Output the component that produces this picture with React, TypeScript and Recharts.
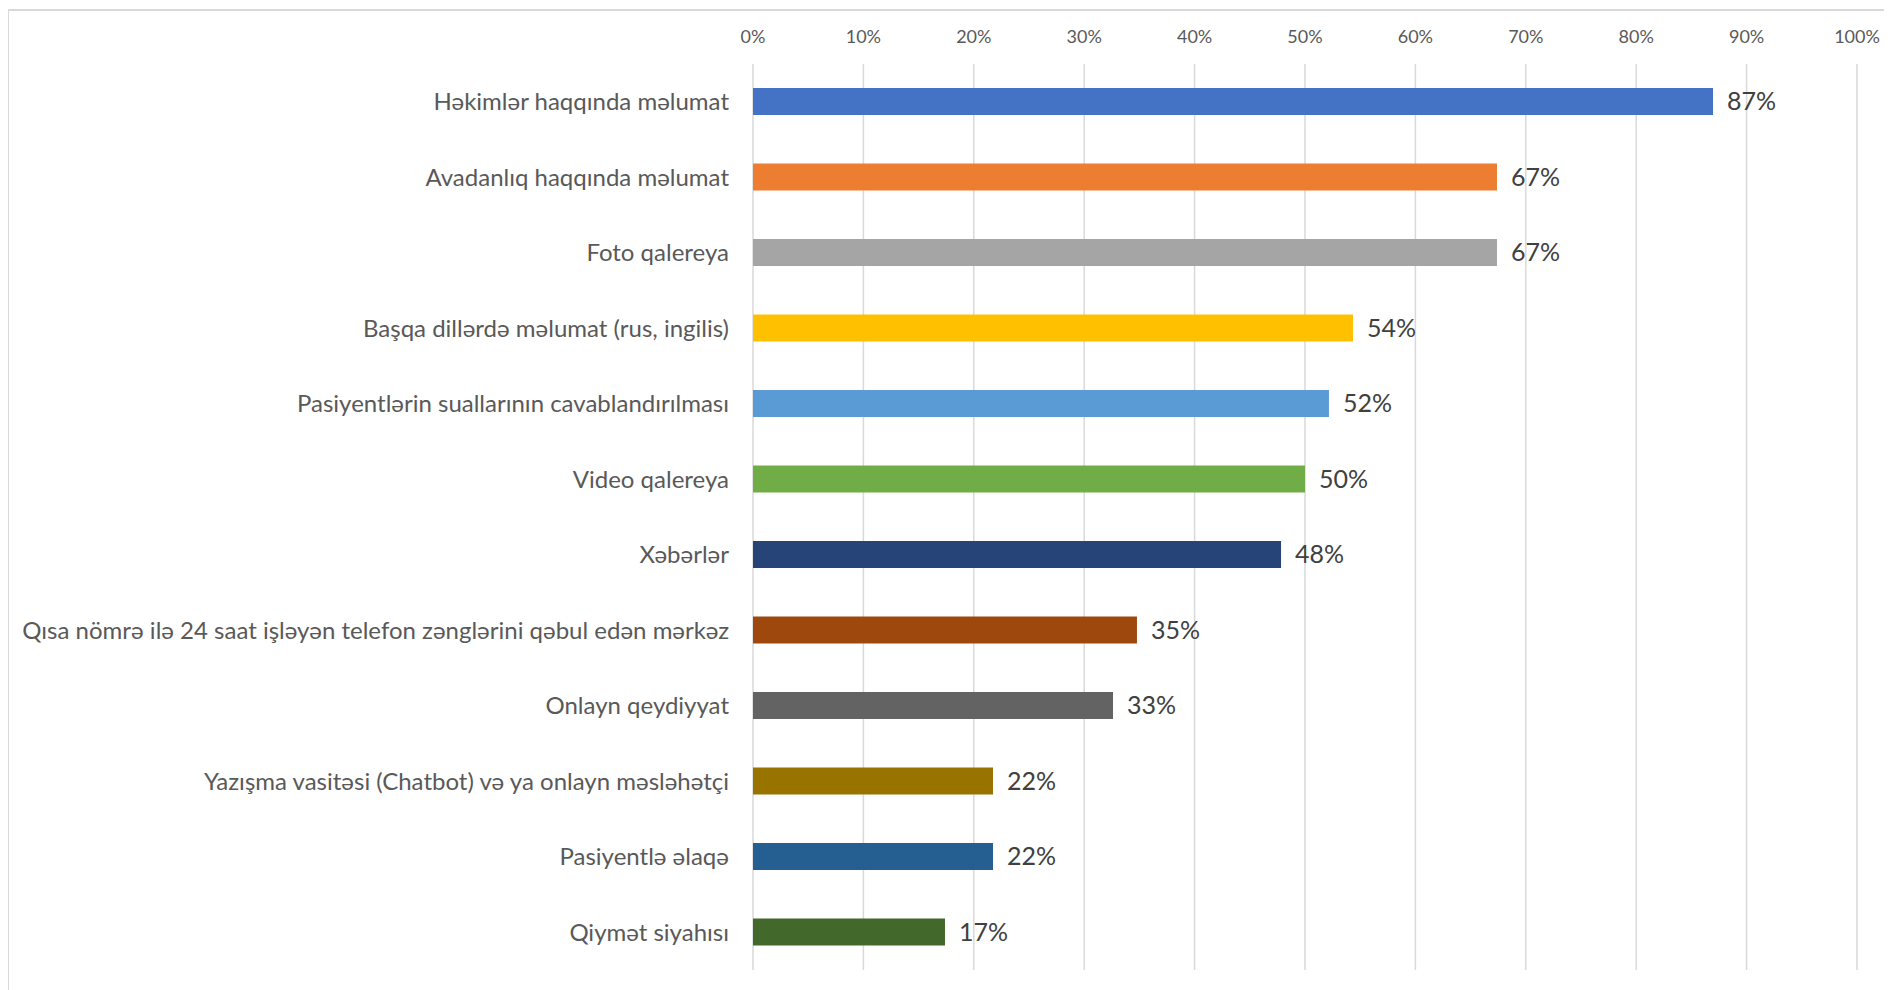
import React from 'react';
import { BarChart, Bar, XAxis, YAxis, CartesianGrid, Cell, LabelList } from 'recharts';

const categories = [
  'Həkimlər haqqında məlumat',
  'Avadanlıq haqqında məlumat',
  'Foto qalereya',
  'Başqa dillərdə məlumat (rus, ingilis)',
  'Pasiyentlərin suallarının cavablandırılması',
  'Video qalereya',
  'Xəbərlər',
  'Qısa nömrə ilə 24 saat işləyən telefon zənglərini qəbul edən mərkəz',
  'Onlayn qeydiyyat',
  'Yazışma vasitəsi (Chatbot) və ya onlayn məsləhətçi',
  'Pasiyentlə əlaqə',
  'Qiymət siyahısı',
];

const values = [86.96, 67.39, 67.39, 54.35, 52.17, 50.0, 47.83, 34.78, 32.61, 21.74, 21.74, 17.39];

const colors = [
  '#4472C4', '#ED7D31', '#A5A5A5', '#FFC000', '#5B9BD5', '#70AD47',
  '#264478', '#9E480E', '#636363', '#997300', '#255E91', '#43682B',
];

const xTicks = [0, 10, 20, 30, 40, 50, 60, 70, 80, 90, 100];

const data = categories.map((name, i) => ({ name, value: values[i] }));

const FONT = 'Lato, "Noto Sans", sans-serif';

export default function App() {
  return (
    <div
      style={{
        marginLeft: -1,
        marginTop: 1,
        width: 1885,
        height: 981,
        borderLeft: '2px solid #D9D9D9',
        borderTop: '2px solid #D9D9D9',
        boxSizing: 'border-box',
        overflow: 'hidden',
        background: '#fff',
        fontFamily: FONT,
      }}
    >
      <BarChart
        width={1880}
        height={979}
        data={data}
        layout="vertical"
        margin={{ top: 0, right: 32, left: 0, bottom: 20 }}
        barCategoryGap="64%"
      >
        <CartesianGrid horizontal={false} stroke="#D9D9D9" strokeWidth={1.5} />
        <XAxis
          type="number"
          orientation="top"
          domain={[0, 100]}
          ticks={xTicks}
          tickFormatter={(v: number) => `${v}%`}
          axisLine={false}
          tickLine={false}
          tickSize={0}
          tickMargin={21}
          height={53}
          interval={0}
          tick={{ fill: '#595959', fontSize: 18, fontFamily: FONT }}
        />
        <YAxis
          type="category"
          dataKey="name"
          width={744}
          axisLine={false}
          tickLine={false}
          tickSize={0}
          tickMargin={24}
          interval={0}
          tick={{ fill: '#595959', fontSize: 24, fontFamily: FONT }}
        />
        <Bar dataKey="value" barSize={27} isAnimationActive={false}>
          {data.map((d, i) => (
            <Cell key={d.name} fill={colors[i]} />
          ))}
          <LabelList
            dataKey="value"
            position="right"
            offset={14}
            formatter={(v: number) => `${Math.round(v)}%`}
            fill="#404040"
            fontSize={25}
            fontFamily={FONT}
          />
        </Bar>
      </BarChart>
    </div>
  );
}
